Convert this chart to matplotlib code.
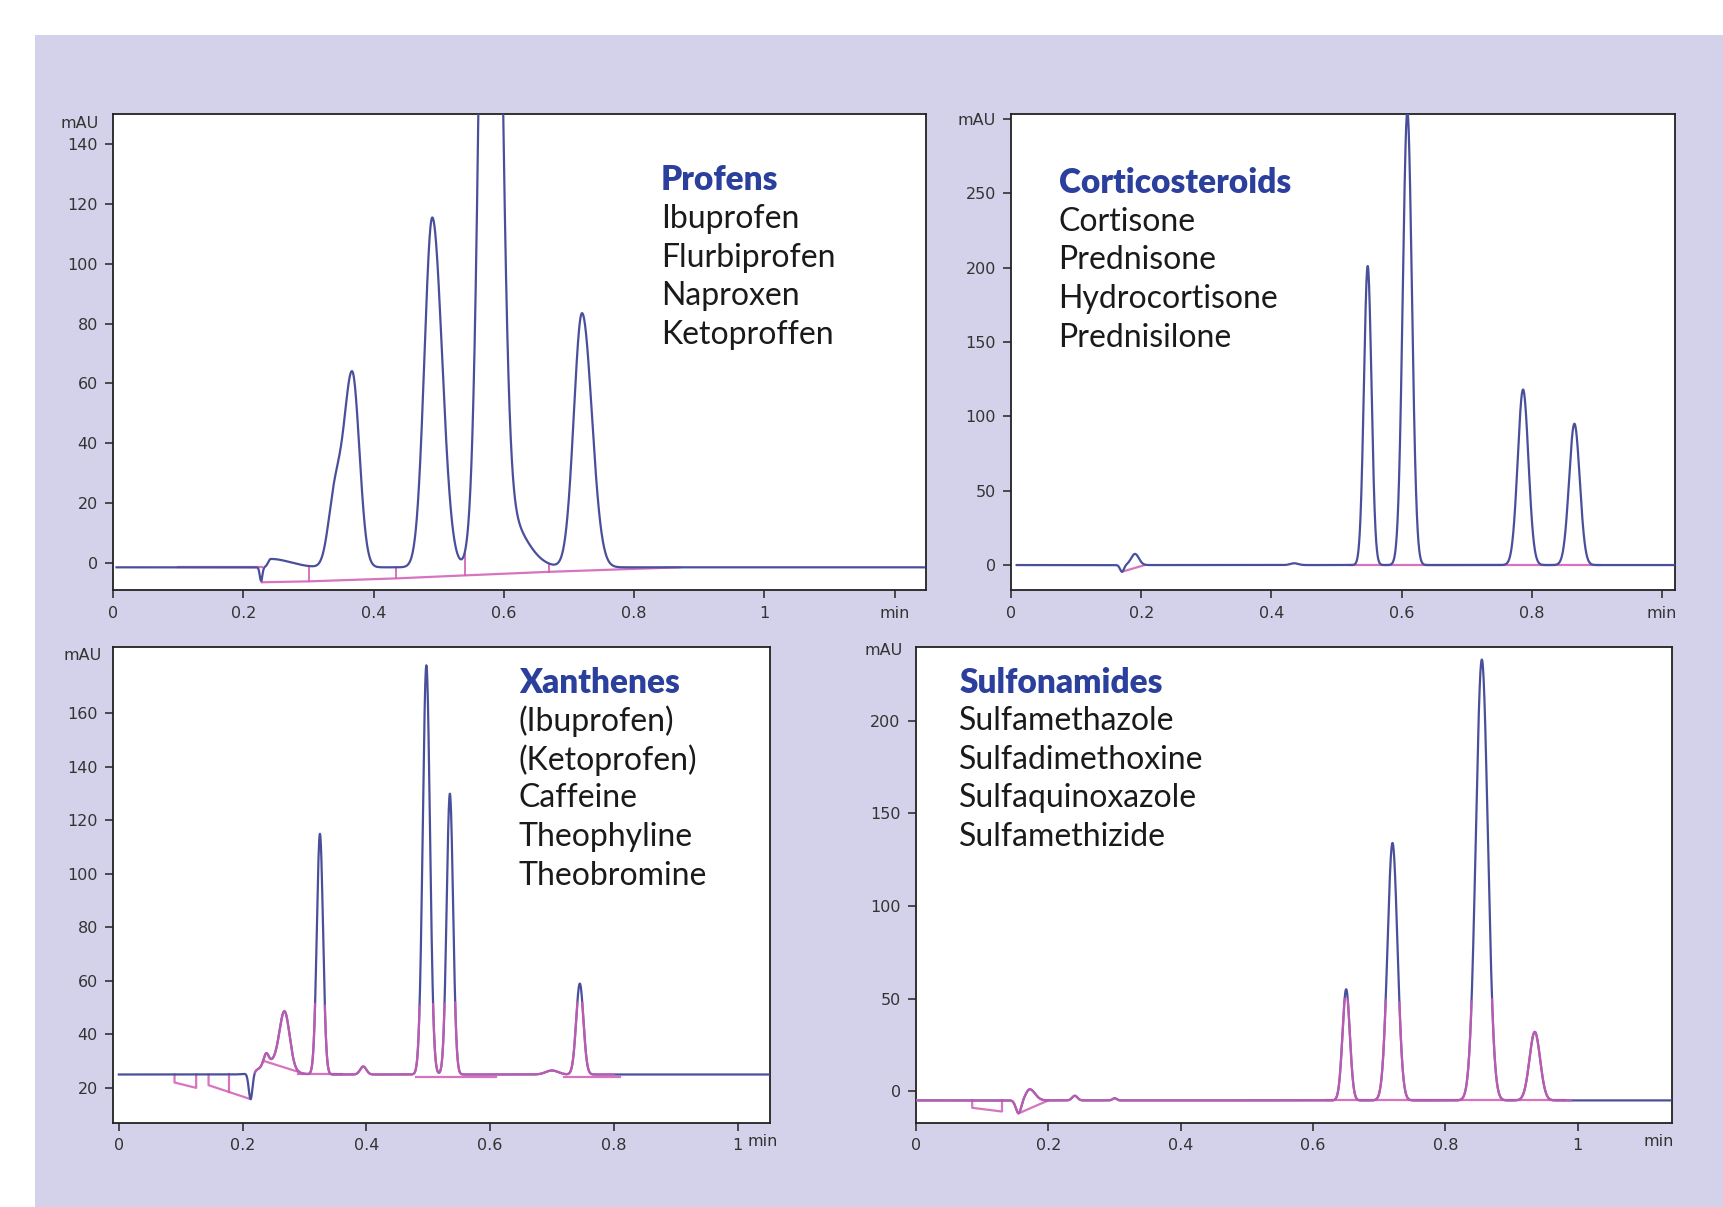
import numpy as np
import matplotlib.pyplot as plt
from matplotlib.patches import Rectangle

BLUE = '#4a4f9c'
PINK = '#d05cb4'
TITLE_BLUE = '#2b3f9c'
PANEL_BG = '#d4d2ea'

# ---- Profens: retention time (min), height over baseline (mAU), left / right width (min)
prof_rt = [0.227, 0.242, 0.340, 0.367, 0.490, 0.579, 0.600, 0.720]
prof_h = [-4.5, 2.8, 22, 65, 117, 400, 18, 85]
prof_wl = [0.002, 0.004, 0.010, 0.013, 0.012, 0.013, 0.020, 0.0125]
prof_wr = [0.002, 0.030, 0.010, 0.011, 0.015, 0.0135, 0.030, 0.015]
prof_base = -1.5
prof_drops = [0.228, 0.300, 0.435, 0.540, 0.670, 0.870]
prof_fit_t = [0.228, 0.300, 0.435, 0.540, 0.670, 0.870]
prof_fit_y = [-6.5, -6.2, -5.2, -4.2, -3.0, -1.5]
prof_names = ['Ibuprofen', 'Flurbiprofen', 'Naproxen', 'Ketoproffen']

# ---- Corticosteroids
cort_rt = [0.170, 0.190, 0.435, 0.548, 0.609, 0.787, 0.866]
cort_h = [-4.5, 7.5, 1.2, 201, 305, 118, 95]
cort_wl = [0.003, 0.006, 0.006, 0.0058, 0.007, 0.0082, 0.0082]
cort_wr = [0.003, 0.006, 0.006, 0.0058, 0.007, 0.0082, 0.0082]
cort_base = 0.0
cort_fit = [[(0.170, -4.5), (0.205, 0.0)], [(0.520, 0.0), (0.905, 0.0)]]
cort_names = ['Cortisone', 'Prednisone', 'Hydrocortisone', 'Prednisilone']

# ---- Xanthenes
xan_rt = [0.213, 0.238, 0.252, 0.268, 0.325, 0.395, 0.497, 0.535, 0.700, 0.745]
xan_h = [-10, 4, 5, 20, 90, 3, 153, 105, 1.5, 34]
xan_wl = [0.003, 0.004, 0.020, 0.008, 0.005, 0.005, 0.0058, 0.0052, 0.010, 0.0058]
xan_wr = [0.003, 0.004, 0.020, 0.008, 0.005, 0.005, 0.0058, 0.0052, 0.010, 0.0058]
xan_base = 25.0
xan_fit = [[(0.090, 25), (0.090, 22), (0.125, 20), (0.125, 25)],
           [(0.145, 25), (0.145, 21), (0.210, 16)],
           [(0.178, 25), (0.178, 18.5)],
           [(0.235, 30), (0.290, 26)],
           [(0.290, 25), (0.360, 25)],
           [(0.480, 24), (0.610, 24)],
           [(0.720, 24), (0.810, 24)]]
xan_names = ['(Ibuprofen)', '(Ketoprofen)', 'Caffeine', 'Theophyline', 'Theobromine']

# ---- Sulfonamides
sulf_rt = [0.155, 0.172, 0.240, 0.300, 0.650, 0.720, 0.855, 0.935]
sulf_h = [-7, 6, 2.5, 1.2, 60, 139, 238, 37]
sulf_wl = [0.004, 0.006, 0.004, 0.003, 0.0055, 0.0075, 0.009, 0.008]
sulf_wr = [0.004, 0.008, 0.004, 0.003, 0.0055, 0.0075, 0.009, 0.008]
sulf_base = -5.0
sulf_fit = [[(0.085, -5), (0.085, -9), (0.130, -11), (0.130, -5)],
            [(0.155, -12), (0.200, -5)],
            [(0.620, -5), (0.980, -5)]]
sulf_names = ['Sulfamethazole', 'Sulfadimethoxine', 'Sulfaquinoxazole', 'Sulfamethizide']


def chromatogram(t, base, rt, h, wl, wr):
    y = np.full_like(t, base)
    for r, a, l, w in zip(rt, h, wl, wr):
        s = np.where(t < r, l, w)
        y = y + a * np.exp(-0.5 * ((t - r) / s) ** 2)
    return y


def style_axes(ax, xlim, ylim, xticks, xlabels, yticks, ylabels):
    ax.set_xlim(*xlim)
    ax.set_ylim(*ylim)
    ax.set_xticks(xticks)
    ax.set_xticklabels(xlabels)
    ax.set_yticks(yticks)
    ax.set_yticklabels(ylabels)
    ax.tick_params(direction='out', length=6, width=1.1, colors='#222222',
                   labelcolor='#333333', labelsize=11.5, pad=5)
    for sp in ax.spines.values():
        sp.set_color('#222222')
        sp.set_linewidth(1.3)
    ax.set_facecolor('white')


def label_block(ax, x, y, title, names):
    step = 0.081
    ax.text(x, y, title, transform=ax.transAxes, va='center', ha='left',
            fontsize=24, fontweight='heavy', color=TITLE_BLUE, family='Lato')
    for i, n in enumerate(names):
        ax.text(x, y - step * (i + 1), n, transform=ax.transAxes, va='center',
                ha='left', fontsize=23, color='#1a1a1a', family='Lato')


def draw_fit(ax, segments):
    for seg in segments:
        xs, ys = zip(*seg)
        ax.plot(xs, ys, color=PINK, lw=1.6, alpha=0.85, zorder=3)


def unit_label(ax, x, text):
    ax.text(x, -0.024, text, transform=ax.get_xaxis_transform(), ha='left',
            va='top', fontsize=11.5, color='#333333')


fig = plt.figure(figsize=(17.24, 12.07), dpi=100)
fig.patches.append(Rectangle((0.0203, 0), 1, 0.971, transform=fig.transFigure,
                             facecolor=PANEL_BG, edgecolor='none', zorder=-10))

# Profens
ax1 = fig.add_axes([0.0657, 0.5109, 0.4713, 0.3944])
t1 = np.linspace(0.005, 1.245, 5000)
y1 = chromatogram(t1, prof_base, prof_rt, prof_h, prof_wl, prof_wr)
ax1.plot(t1, y1, color=BLUE, lw=1.6, zorder=4)
ax1.plot([0.10, 0.228], [prof_base, prof_base], color=PINK, lw=1.6, alpha=0.85, zorder=3)
ax1.plot(prof_fit_t, prof_fit_y, color=PINK, lw=1.6, alpha=0.85, zorder=3)
for td in prof_drops:
    yt = np.interp(td, t1, y1)
    yb = np.interp(td, prof_fit_t, prof_fit_y)
    ax1.plot([td, td], [yt, yb], color=PINK, lw=1.4, alpha=0.85, zorder=3)
style_axes(ax1, (0, 1.248), (-9.2, 150),
           [0, 0.2, 0.4, 0.6, 0.8, 1.0, 1.2], ['0', '0.2', '0.4', '0.6', '0.8', '1', 'min'],
           list(range(0, 141, 20)), [str(v) for v in range(0, 141, 20)])
ax1.text(-0.018, 147, 'mAU', transform=ax1.get_yaxis_transform(), ha='right',
         va='center', fontsize=11.5, color='#333333')
label_block(ax1, 0.674, 0.861, 'Profens', prof_names)

# Corticosteroids
ax2 = fig.add_axes([0.5867, 0.5109, 0.3846, 0.3944])
t2 = np.linspace(0.008, 1.02, 5000)
y2 = chromatogram(t2, cort_base, cort_rt, cort_h, cort_wl, cort_wr)
ax2.plot(t2, y2, color=BLUE, lw=1.6, zorder=4)
draw_fit(ax2, cort_fit)
style_axes(ax2, (0, 1.02), (-17, 303),
           [0, 0.2, 0.4, 0.6, 0.8, 1.0], ['0', '0.2', '0.4', '0.6', '0.8', 'min'],
           list(range(0, 301, 50)), [str(v) for v in range(0, 251, 50)] + ['mAU'])
label_block(ax2, 0.071, 0.855, 'Corticosteroids', cort_names)

# Xanthenes
ax3 = fig.add_axes([0.0657, 0.0699, 0.3808, 0.3944])
t3 = np.linspace(0.0, 1.05, 5000)
y3 = chromatogram(t3, xan_base, xan_rt, xan_h, xan_wl, xan_wr)
ax3.plot(t3, y3, color=BLUE, lw=1.6, zorder=4)
ax3.plot(t3, np.where((y3 < 52) & (t3 > 0.22) & (t3 < 0.8), y3, np.nan),
         color=PINK, lw=1.6, alpha=0.85, zorder=5)
draw_fit(ax3, xan_fit)
style_axes(ax3, (-0.009, 1.052), (7, 185),
           [0, 0.2, 0.4, 0.6, 0.8, 1.0], ['0', '0.2', '0.4', '0.6', '0.8', '1'],
           list(range(20, 161, 20)), [str(v) for v in range(20, 161, 20)])
unit_label(ax3, 1.016, 'min')
ax3.text(-0.018, 181.5, 'mAU', transform=ax3.get_yaxis_transform(), ha='right',
         va='center', fontsize=11.5, color='#333333')
label_block(ax3, 0.618, 0.924, 'Xanthenes', xan_names)

# Sulfonamides
ax4 = fig.add_axes([0.5313, 0.0699, 0.4388, 0.3944])
t4 = np.linspace(0.0, 1.14, 5000)
y4 = chromatogram(t4, sulf_base, sulf_rt, sulf_h, sulf_wl, sulf_wr)
ax4.plot(t4, y4, color=BLUE, lw=1.6, zorder=4)
ax4.plot(t4, np.where((y4 < 50) & (t4 < 0.99), y4, np.nan),
         color=PINK, lw=1.6, alpha=0.85, zorder=5)
draw_fit(ax4, sulf_fit)
style_axes(ax4, (0, 1.143), (-17, 240),
           [0, 0.2, 0.4, 0.6, 0.8, 1.0], ['0', '0.2', '0.4', '0.6', '0.8', '1'],
           list(range(0, 201, 50)), [str(v) for v in range(0, 201, 50)])
unit_label(ax4, 1.1, 'min')
ax4.text(-0.018, 238, 'mAU', transform=ax4.get_yaxis_transform(), ha='right',
         va='center', fontsize=11.5, color='#333333')
label_block(ax4, 0.057, 0.924, 'Sulfonamides', sulf_names)

fig.savefig('out.png', dpi=100)
